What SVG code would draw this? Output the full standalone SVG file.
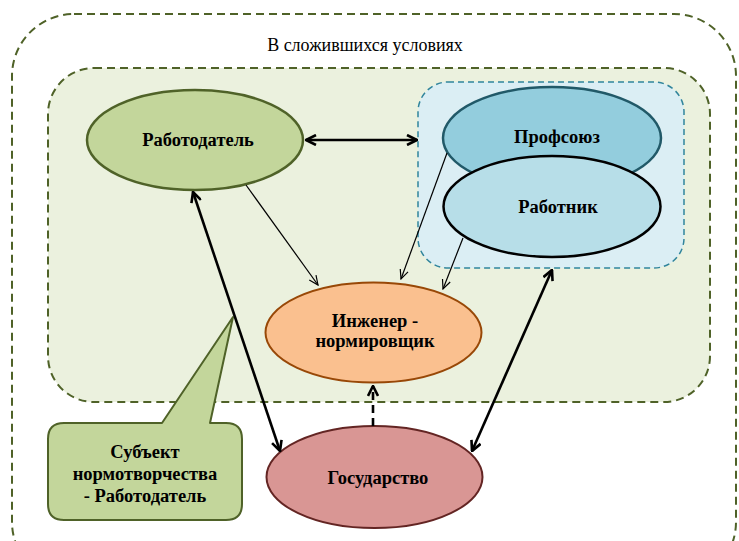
<svg xmlns="http://www.w3.org/2000/svg" width="739" height="541" viewBox="0 0 739 541" font-family="'Liberation Serif','Times New Roman',serif">
<defs>
<style>
.t{font-family:"Liberation Serif","Times New Roman",serif;font-size:18.5px;fill:#000;text-anchor:middle}
.b{font-weight:bold}
.thick{stroke:#000;stroke-width:2.6;fill:none}
.thin{stroke:#000;stroke-width:1.2;fill:none}
</style>
<marker id="ah" viewBox="0 0 12 12" refX="11" refY="6" markerWidth="12" markerHeight="12" markerUnits="userSpaceOnUse" orient="auto-start-reverse">
<path d="M1,1 L11,6 L1,11" fill="none" stroke="#000" stroke-width="2.6"/>
</marker>
<marker id="at" viewBox="0 0 12 12" refX="11" refY="6" markerWidth="11" markerHeight="11" markerUnits="userSpaceOnUse" orient="auto">
<path d="M1,1.5 L11,6 L1,10.5" fill="none" stroke="#000" stroke-width="1.3"/>
</marker>
</defs>
<rect x="0" y="0" width="739" height="541" fill="#fff"/>
<g id="outer">
<rect x="12" y="14" width="724" height="570" rx="62" fill="none" stroke="#4f6228" stroke-width="2" stroke-dasharray="8,5"/>
<text class="t" x="365" y="51" style="font-size:18px">В сложившихся условиях</text>
</g>
<g id="inner">
<rect x="48" y="68" width="662" height="334" rx="46" fill="#ebf1de" stroke="#4f6228" stroke-width="2" stroke-dasharray="8,5"/>
</g>
<g id="group-blue">
<rect x="418" y="82" width="266" height="186" rx="30" fill="#dbeef4" stroke="#31859c" stroke-width="1.5" stroke-dasharray="6,4"/>
</g>
<g id="callout">
<path d="M64,423 L162,423 L233,317 L210,423 L226,423 Q242,423 242,439 L242,504 Q242,520 226,520 L64,520 Q48,520 48,504 L48,439 Q48,423 64,423 Z" fill="#c3d69b" stroke="#4f6228" stroke-width="2" stroke-linejoin="round"/>
<text class="t b" x="145" y="458">Субъект</text>
<text class="t b" x="145" y="480">нормотворчества</text>
<text class="t b" x="145" y="502">- Работодатель</text>
</g>
<g id="employer">
<ellipse cx="195" cy="140" rx="108" ry="50" fill="#c3d69b" stroke="#4f6228" stroke-width="2.5"/>
<text class="t b" x="198" y="146">Работодатель</text>
</g>
<g id="union">
<ellipse cx="552" cy="138" rx="109" ry="51" fill="#93cddd" stroke="#215968" stroke-width="2.5"/>
<text class="t b" x="557" y="143">Профсоюз</text>
</g>
<g id="worker">
<ellipse cx="552" cy="206.5" rx="108.5" ry="50.5" fill="#b7dee8" stroke="#000" stroke-width="2.5"/>
<text class="t b" x="558" y="213">Работник</text>
</g>
<g id="engineer">
<ellipse cx="373.5" cy="332.5" rx="108" ry="50" fill="#fac08f" stroke="#984807" stroke-width="2"/>
<text class="t b" x="375" y="327">Инженер -</text>
<text class="t b" x="375" y="347">нормировщик</text>
</g>
<g id="state">
<ellipse cx="374.5" cy="477" rx="108" ry="51" fill="#d99694" stroke="#632523" stroke-width="2"/>
<text class="t b" x="378" y="484">Государство</text>
</g>
<g id="connectors">
<line class="thick" x1="306" y1="140" x2="417" y2="140" marker-start="url(#ah)" marker-end="url(#ah)"/>
<line class="thin" x1="246" y1="185" x2="318" y2="285" marker-end="url(#at)"/>
<line class="thin" x1="447" y1="153" x2="401" y2="279" marker-end="url(#at)"/>
<line class="thin" x1="463" y1="238" x2="443" y2="289" marker-end="url(#at)"/>
<line class="thick" x1="193" y1="192" x2="280" y2="451" marker-start="url(#ah)" marker-end="url(#ah)"/>
<line class="thick" x1="552" y1="270" x2="472" y2="451" marker-start="url(#ah)" marker-end="url(#ah)"/>
<line class="thick" x1="373" y1="426" x2="373" y2="386" stroke-dasharray="8,5" marker-end="url(#ah)"/>
</g>
</svg>
